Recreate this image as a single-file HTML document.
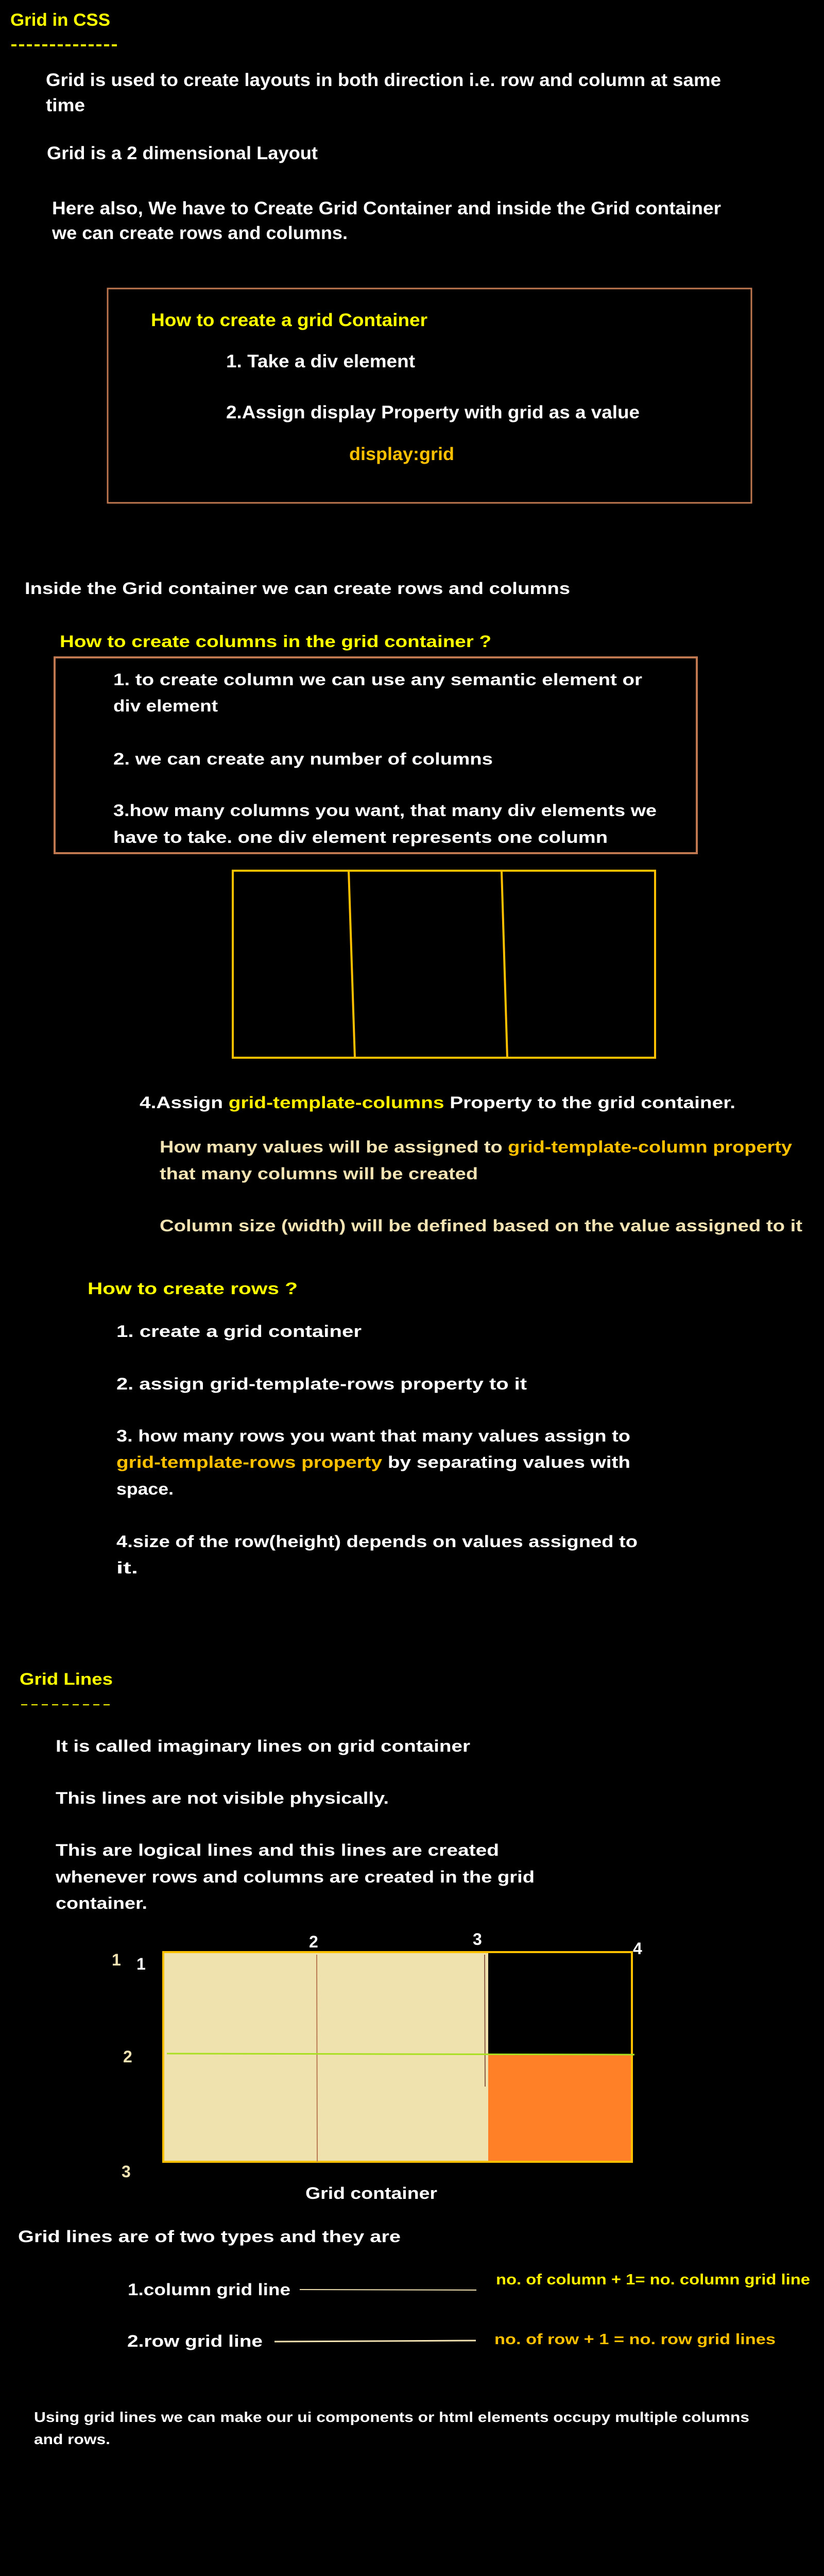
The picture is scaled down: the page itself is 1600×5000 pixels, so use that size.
<!DOCTYPE html>
<html><head><meta charset="utf-8"><style>
html,body{margin:0;padding:0;background:#000;}
svg{display:block;}
text{font-family:"Liberation Sans",sans-serif;font-weight:bold;}
</style></head><body>
<svg width="1600" height="5000" viewBox="0 0 1600 5000" xmlns="http://www.w3.org/2000/svg">
<rect x="0" y="0" width="1600" height="5000" fill="#000"/>

<text x="20" y="50" font-size="34" fill="#ffff00" textLength="194" lengthAdjust="spacingAndGlyphs">Grid in CSS</text>
<line x1="22" y1="88" x2="229" y2="88" stroke="#ffff00" stroke-width="4" stroke-dasharray="10,5"/>

<g fill="#fff" font-size="35">
<text x="89" y="167" textLength="1311" lengthAdjust="spacingAndGlyphs">Grid is used to create layouts in both direction i.e. row and column at same</text>
<text x="89" y="216" textLength="76" lengthAdjust="spacingAndGlyphs">time</text>
<text x="91" y="309" textLength="526" lengthAdjust="spacingAndGlyphs">Grid is a 2 dimensional Layout</text>
<text x="101" y="416" textLength="1299" lengthAdjust="spacingAndGlyphs">Here also, We have to  Create Grid Container and inside the Grid container</text>
<text x="101" y="464" textLength="574" lengthAdjust="spacingAndGlyphs">we can create rows and columns.</text>
</g>

<rect x="209" y="560" width="1250" height="416" fill="none" stroke="#c07850" stroke-width="3"/>
<text x="293" y="633" font-size="35" fill="#ffff00" textLength="537" lengthAdjust="spacingAndGlyphs">How to create a grid Container</text>
<text x="439" y="713" font-size="35" fill="#fff" textLength="367" lengthAdjust="spacingAndGlyphs">1. Take a div element</text>
<text x="439" y="812" font-size="35" fill="#fff" textLength="803" lengthAdjust="spacingAndGlyphs">2.Assign display Property with  grid as a value</text>
<text x="678" y="893" font-size="35" fill="#ffc000" textLength="204" lengthAdjust="spacingAndGlyphs">display:grid</text>

<text x="48" y="1153" font-size="32" fill="#fff" textLength="1059" lengthAdjust="spacingAndGlyphs">Inside the Grid container we can create rows and columns</text>
<text x="116" y="1256" font-size="32" fill="#ffff00" textLength="838" lengthAdjust="spacingAndGlyphs">How to create columns in the grid container ?</text>
<rect x="106" y="1276" width="1247" height="380" fill="none" stroke="#c07850" stroke-width="4"/>
<g fill="#fff" font-size="32">
<text x="220" y="1330" textLength="1027" lengthAdjust="spacingAndGlyphs">1. to create column we can use any semantic element or</text>
<text x="220" y="1381" textLength="203" lengthAdjust="spacingAndGlyphs">div element</text>
<text x="220" y="1484" textLength="737" lengthAdjust="spacingAndGlyphs">2. we can create any number of columns</text>
<text x="220" y="1584" textLength="1055" lengthAdjust="spacingAndGlyphs">3.how many columns you want, that many div elements we</text>
<text x="220" y="1636" textLength="960" lengthAdjust="spacingAndGlyphs">have to take. one div element represents one column</text>
</g>

<rect x="452" y="1690" width="820" height="363" fill="none" stroke="#ffc000" stroke-width="4"/>
<line x1="677" y1="1690" x2="689" y2="2053" stroke="#ffc000" stroke-width="4"/>
<line x1="974" y1="1692" x2="985" y2="2053" stroke="#ffc000" stroke-width="4"/>

<text x="271" y="2151" font-size="32" fill="#fff" textLength="1157" lengthAdjust="spacingAndGlyphs">4.Assign <tspan fill="#ffee00">grid-template-columns</tspan> Property to the grid container.</text>
<text x="310" y="2237" font-size="32" fill="#f3e3b2" textLength="1228" lengthAdjust="spacingAndGlyphs">How many values will be assigned to <tspan fill="#ffc000">grid-template-column property</tspan></text>
<text x="310" y="2289" font-size="32" fill="#f3e3b2" textLength="618" lengthAdjust="spacingAndGlyphs">that many columns will be created</text>
<text x="310" y="2390" font-size="32" fill="#f3e3b2" textLength="1248" lengthAdjust="spacingAndGlyphs">Column size (width) will be defined based on the value assigned to it</text>

<text x="170" y="2512" font-size="32" fill="#ffff00" textLength="408" lengthAdjust="spacingAndGlyphs">How to create rows  ?</text>
<g fill="#fff" font-size="32">
<text x="226" y="2595" textLength="476" lengthAdjust="spacingAndGlyphs">1. create a grid container</text>
<text x="226" y="2697" textLength="797" lengthAdjust="spacingAndGlyphs">2. assign grid-template-rows property to it</text>
<text x="226" y="2798" textLength="998" lengthAdjust="spacingAndGlyphs">3. how many rows you want that many values assign to</text>
<text x="226" y="2849" textLength="998" lengthAdjust="spacingAndGlyphs"><tspan fill="#ffc000">grid-template-rows property</tspan> by separating values with</text>
<text x="226" y="2901" textLength="111" lengthAdjust="spacingAndGlyphs">space.</text>
<text x="226" y="3003" textLength="1012" lengthAdjust="spacingAndGlyphs">4.size of the row(height) depends on values assigned to</text>
<text x="226" y="3054" textLength="42" lengthAdjust="spacingAndGlyphs">it.</text>
</g>

<text x="38" y="3270" font-size="32" fill="#ffff00" textLength="181" lengthAdjust="spacingAndGlyphs">Grid Lines</text>
<line x1="41" y1="3309" x2="216" y2="3309" stroke="#ffff00" stroke-width="2" stroke-dasharray="12,8"/>
<g fill="#fff" font-size="32">
<text x="108" y="3400" textLength="805" lengthAdjust="spacingAndGlyphs">It is called imaginary lines on grid container</text>
<text x="108" y="3501" textLength="647" lengthAdjust="spacingAndGlyphs">This lines are not visible physically.</text>
<text x="108" y="3602" textLength="861" lengthAdjust="spacingAndGlyphs">This are logical lines and this lines are created</text>
<text x="108" y="3654" textLength="930" lengthAdjust="spacingAndGlyphs">whenever rows and columns are created in the grid</text>
<text x="108" y="3705" textLength="178" lengthAdjust="spacingAndGlyphs">container.</text>
</g>

<g>
<rect x="317" y="3789" width="910" height="407" fill="#000" stroke="#ffc000" stroke-width="4"/>
<rect x="319" y="3791" width="629" height="403" fill="#efe2af"/>
<rect x="948" y="3987" width="277" height="207" fill="#ff8027"/>
<line x1="615" y1="3794" x2="616" y2="4196" stroke="#b87850" stroke-width="2"/>
<line x1="941" y1="3794" x2="942" y2="4050" stroke="#8a5a40" stroke-width="2"/>
<line x1="324" y1="3986" x2="1232" y2="3988" stroke="#a8e020" stroke-width="3"/>
</g>
<g font-size="32">
<text x="217" y="3815" fill="#f3e3b2">1</text>
<text x="265" y="3823" fill="#fff">1</text>
<text x="600" y="3780" fill="#fff">2</text>
<text x="918" y="3775" fill="#fff">3</text>
<text x="1229" y="3793" fill="#fff">4</text>
<text x="239" y="4003" fill="#f3e3b2">2</text>
<text x="236" y="4226" fill="#f3e3b2">3</text>
</g>
<text x="593" y="4268" font-size="32" fill="#fff" textLength="256" lengthAdjust="spacingAndGlyphs">Grid container</text>

<text x="35" y="4352" font-size="32" fill="#fff" textLength="743" lengthAdjust="spacingAndGlyphs">Grid lines are of two types and they are</text>
<text x="248" y="4455" font-size="32" fill="#fff" textLength="316" lengthAdjust="spacingAndGlyphs">1.column grid line</text>
<line x1="582" y1="4444" x2="925" y2="4445" stroke="#f3e3b2" stroke-width="2"/>
<text x="963" y="4434" font-size="29" fill="#ffee00" textLength="610" lengthAdjust="spacingAndGlyphs">no. of column + 1= no. column grid line</text>
<text x="247" y="4555" font-size="32" fill="#fff" textLength="263" lengthAdjust="spacingAndGlyphs">2.row grid line</text>
<line x1="533" y1="4545" x2="924" y2="4543" stroke="#f3e3b2" stroke-width="3"/>
<text x="960" y="4550" font-size="29" fill="#ffc000" textLength="546" lengthAdjust="spacingAndGlyphs">no. of row + 1  = no. row grid lines</text>

<text x="66" y="4701" font-size="28" fill="#fff" textLength="1389" lengthAdjust="spacingAndGlyphs">Using grid lines we can make our ui components or html elements occupy multiple columns</text>
<text x="66" y="4744" font-size="28" fill="#fff" textLength="148" lengthAdjust="spacingAndGlyphs">and rows.</text>
</svg>
</body></html>
